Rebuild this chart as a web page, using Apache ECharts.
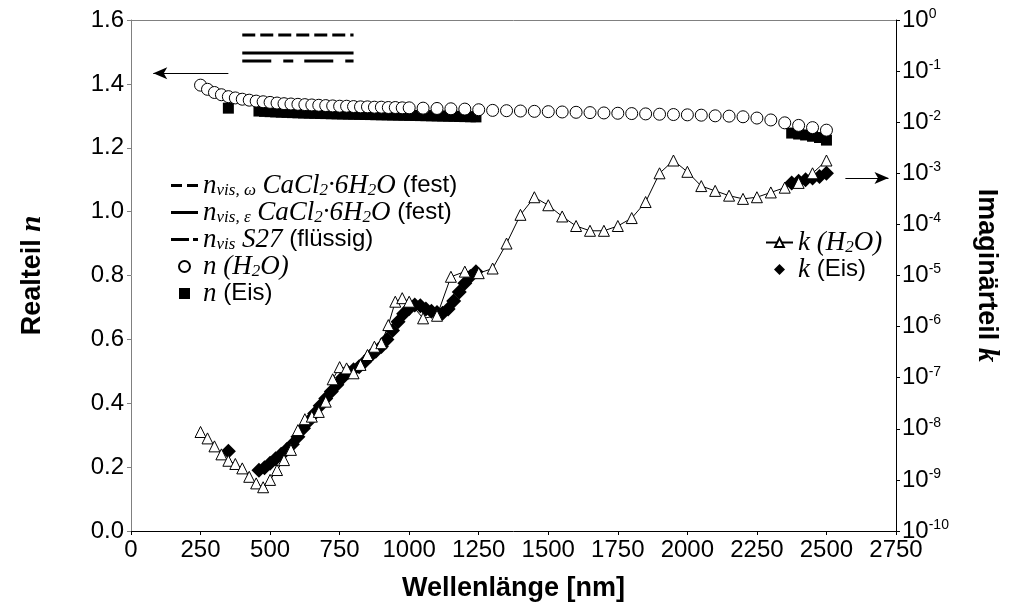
<!DOCTYPE html>
<html>
<head>
<meta charset="utf-8">
<title>Realteil / Imaginärteil</title>
<script src="https://cdn.jsdelivr.net/npm/echarts@6/dist/echarts.min.js"></script>
<style>
    html, body { margin: 0; padding: 0; background: #fff; }
    #main { width: 1018px; height: 609px; }
</style>
</head>
<body>
<div id="main"></div>
<script>
// Wasser: Wellenlänge (nm), Realteil n, Imaginärteil k
var wlWater = [250, 275, 300, 325, 350, 375, 400, 425, 450, 475, 500, 525, 550, 575, 600, 625, 650, 675, 700, 725,
    750, 775, 800, 825, 850, 875, 900, 925, 950, 975, 1000, 1050, 1100, 1150, 1200, 1250, 1300, 1350, 1400, 1450,
    1500, 1550, 1600, 1650, 1700, 1750, 1800, 1850, 1900, 1950, 2000, 2050, 2100, 2150, 2200, 2250, 2300, 2350,
    2400, 2450, 2500];
var nWater = [1.396, 1.383, 1.373, 1.366, 1.360, 1.356, 1.352, 1.349, 1.346, 1.344, 1.342, 1.340, 1.338, 1.337,
    1.336, 1.335, 1.334, 1.333, 1.332, 1.331, 1.330, 1.330, 1.329, 1.328, 1.328, 1.327, 1.327, 1.326, 1.326, 1.325,
    1.325, 1.324, 1.323, 1.322, 1.321, 1.319, 1.317, 1.316, 1.315, 1.314, 1.313, 1.312, 1.311, 1.310, 1.309, 1.308,
    1.307, 1.306, 1.305, 1.304, 1.303, 1.302, 1.300, 1.299, 1.297, 1.293, 1.287, 1.278, 1.270, 1.263, 1.255];
var kWater = [8.66e-9, 6.49e-9, 4.53e-9, 3.16e-9, 2.37e-9, 2.05e-9, 1.68e-9, 1.15e-9, 8.54e-10, 7.18e-10,
    1.0e-9, 1.56e-9, 2.44e-9, 3.87e-9, 9.44e-9, 1.54e-8, 1.73e-8, 2.14e-8, 3.40e-8, 9.3e-8,
    1.61e-7, 1.52e-7, 1.22e-7, 1.78e-7, 2.78e-7, 4.04e-7, 4.73e-7, 1.07e-6, 3.07e-6, 3.60e-6,
    3.07e-6, 1.45e-6, 1.63e-6, 9.44e-6, 1.19e-5, 1.11e-5, 1.37e-5, 4.22e-5, 1.54e-4, 3.40e-4,
    2.37e-4, 1.43e-4, 9.3e-5, 7.5e-5, 7.5e-5, 9.3e-5, 1.33e-4, 2.74e-4, 1.0e-3, 1.78e-3,
    1.07e-3, 5.62e-4, 4.53e-4, 3.65e-4, 3.16e-4, 3.40e-4, 4.22e-4, 5.23e-4, 6.49e-4, 1.0e-3, 1.78e-3];

// Eis
var wlIce = [350, 460, 480, 500, 520, 540, 560, 580, 600, 620, 640, 660, 680, 700, 720, 740, 760, 780, 800, 820,
    840, 860, 880, 900, 920, 940, 960, 980, 1000, 1020, 1040, 1060, 1080, 1100, 1120, 1140, 1160, 1180, 1200, 1220,
    1240, 2375, 2400, 2425, 2450, 2475, 2500];
var nIce = [1.324, 1.3150, 1.3140, 1.3130, 1.3122, 1.3114, 1.3107, 1.3100, 1.3094, 1.3088, 1.3083, 1.3078, 1.3073,
    1.3069, 1.3065, 1.3061, 1.3057, 1.3053, 1.3049, 1.3046, 1.3042, 1.3039, 1.3035, 1.3032, 1.3029, 1.3025, 1.3022,
    1.3018, 1.3015, 1.3011, 1.3007, 1.3004, 1.3000, 1.2996, 1.2992, 1.2988, 1.2984, 1.2980, 1.2975, 1.2971, 1.2966,
    1.246, 1.243, 1.240, 1.236, 1.232, 1.224];
var kIce = [3.65e-9, 1.54e-9, 1.73e-9, 2.11e-9, 2.59e-9, 3.16e-9, 3.92e-9, 5.01e-9, 6.98e-9, 1.03e-8, 1.43e-8,
    2.0e-8, 2.82e-8, 3.92e-8, 5.38e-8, 7.29e-8, 1.0e-7, 1.28e-7, 1.43e-7, 1.63e-7, 2.05e-7, 2.66e-7, 3.30e-7,
    4.10e-7, 5.62e-7, 8.41e-7, 1.24e-6, 1.78e-6, 2.27e-6, 2.66e-6, 2.55e-6, 2.21e-6, 2.0e-6, 1.88e-6, 1.83e-6,
    2.21e-6, 3.16e-6, 4.73e-6, 7.08e-6, 9.58e-6, 1.19e-5,
    6.49e-4, 6.98e-4, 7.5e-4, 8.06e-4, 8.66e-4, 1.0e-3];

// n_vis Linien (sichtbarer Bereich)
var wlVis = [400, 800];
var nVisOmega = [1.553, 1.553];
var nVisEps = [1.497, 1.497];
var nVisS27 = [1.472, 1.472];

// Pfeile (links -> Realteil, rechts -> Imaginärteil)
var arrowLeft = [[350, 1.433], [80, 1.433]];
var arrowRight = [[2568, 1.105], [2723, 1.105]];

function pairs(x, y) {
    return x.map(function (v, i) { return [v, y[i]]; });
}

var serif = 'Liberation Serif';
var sans = 'Liberation Sans';
var legendRich = {
    a: { fontFamily: sans, fontSize: 24, color: '#000', lineHeight: 27 },
    i: { fontFamily: serif, fontStyle: 'italic', fontSize: 27, color: '#000', lineHeight: 27 },
    s: { fontFamily: serif, fontStyle: 'italic', fontSize: 17, color: '#000', lineHeight: 17, verticalAlign: 'bottom' }
};
var legendText = {
    nvw: '{i|n}{s|vis, ω}{a| }{i|CaCl}{s|2}{i|·6H}{s|2}{i|O}{a| (fest)}',
    nve: '{i|n}{s|vis, ε}{a| }{i|CaCl}{s|2}{i|·6H}{s|2}{i|O}{a| (fest)}',
    nvs: '{i|n}{s|vis}{a| }{i|S27}{a| (flüssig)}',
    nw: '{i|n}{a| }{i|(H}{s|2}{i|O)}',
    ni: '{i|n}{a| (Eis)}',
    kw: '{i|k}{a| }{i|(H}{s|2}{i|O)}',
    ki: '{i|k}{a| (Eis)}'
};

var myChart = echarts.init(document.getElementById('main'), null, { renderer: 'canvas' });

var option = {
    animation: false,
    backgroundColor: '#fff',
    textStyle: { fontFamily: sans, color: '#000' },
    grid: { left: 131, right: 122, top: 20, bottom: 78 },
    legend: [
        {
            orient: 'vertical', left: 166, top: 167,
            itemWidth: 27, itemHeight: 11, itemGap: 0,
            selectedMode: false, symbolKeepAspect: true,
            data: [
                { name: 'nvw', icon: 'path://M0,0h11v3h-11zM16,0h11v3h-11z' },
                { name: 'nve', icon: 'path://M0,0h27v3h-27z' },
                { name: 'nvs', icon: 'path://M0,0h18v3h-18zM22,0h5v3h-5z' },
                { name: 'nw', icon: 'circle' },
                { name: 'ni', icon: 'path://M0,0h10v10h-10z' }
            ],
            formatter: function (name) { return legendText[name]; },
            textStyle: { rich: legendRich }
        },
        {
            orient: 'vertical', left: 760, top: 224,
            itemWidth: 27, itemHeight: 11, itemGap: 0,
            selectedMode: false, symbolKeepAspect: true,
            data: [
                { name: 'kw' },
                { name: 'ki', icon: 'path://M6,0L12,6L6,12L0,6z' }
            ],
            formatter: function (name) { return legendText[name]; },
            textStyle: { rich: legendRich }
        }
    ],
    xAxis: [
        {
            type: 'value', min: 0, max: 2750, interval: 250,
            name: 'Wellenlänge [nm]', nameLocation: 'middle', nameGap: 44,
            nameTextStyle: { fontFamily: sans, fontWeight: 'bold', fontSize: 27, color: '#000' },
            axisLine: { show: true, onZero: false, lineStyle: { color: '#000', width: 1 } },
            axisTick: { show: true, inside: false, length: 4, lineStyle: { color: '#000' } },
            axisLabel: { fontSize: 24, color: '#000', margin: 7, formatter: function (v) { return String(v); } },
            splitLine: { show: false }
        },
        {
            type: 'value', min: 0, max: 2750, position: 'top',
            axisLine: { show: true, onZero: false, lineStyle: { color: '#808080', width: 1 } },
            axisTick: { show: false }, axisLabel: { show: false }, splitLine: { show: false }
        }
    ],
    yAxis: [
        {
            type: 'value', min: 0, max: 1.6, interval: 0.2, position: 'left',
            name: 'Realteil {it|n}', nameLocation: 'middle', nameRotate: 90, nameGap: 84,
            nameTextStyle: {
                fontFamily: sans, fontWeight: 'bold', fontSize: 27, color: '#000',
                rich: { it: { fontFamily: serif, fontStyle: 'italic', fontWeight: 'bold', fontSize: 29, color: '#000' } }
            },
            axisLine: { show: true, onZero: false, lineStyle: { color: '#808080', width: 1 } },
            axisTick: { show: true, inside: false, length: 4, lineStyle: { color: '#808080' } },
            axisLabel: { fontSize: 24, color: '#000', margin: 7, formatter: function (v) { return v.toFixed(1); } },
            splitLine: { show: false }
        },
        {
            type: 'log', logBase: 10, min: 1e-10, max: 1, interval: 1, position: 'right',
            name: 'Imaginärteil {it|k}', nameLocation: 'middle', nameRotate: -90, nameGap: 76,
            nameTextStyle: {
                fontFamily: sans, fontWeight: 'bold', fontSize: 27, color: '#000',
                rich: { it: { fontFamily: serif, fontStyle: 'italic', fontWeight: 'bold', fontSize: 29, color: '#000' } }
            },
            axisLine: { show: true, onZero: false, lineStyle: { color: '#000', width: 1 } },
            axisTick: { show: true, inside: false, length: 4, lineStyle: { color: '#000' } },
            axisLabel: {
                color: '#000', margin: 6,
                formatter: function (v) {
                    var e = Math.round(Math.log(v) / Math.LN10);
                    return '{b|10}{p|' + e + '}';
                },
                rich: {
                    b: { fontFamily: sans, fontSize: 24, color: '#000', lineHeight: 26 },
                    p: { fontFamily: sans, fontSize: 14, color: '#000', lineHeight: 14, verticalAlign: 'top' }
                }
            },
            minorTick: { show: false },
            splitLine: { show: false }
        }
    ],
    series: [
        {
            name: 'nvw', type: 'line', data: pairs(wlVis, nVisOmega), showSymbol: false, symbol: 'none',
            lineStyle: { color: '#000', width: 3, type: [13, 5] }, itemStyle: { color: '#000' }
        },
        {
            name: 'nve', type: 'line', data: pairs(wlVis, nVisEps), showSymbol: false, symbol: 'none',
            lineStyle: { color: '#000', width: 3, type: 'solid' }, itemStyle: { color: '#000' }
        },
        {
            name: 'nvs', type: 'line', data: pairs(wlVis, nVisS27), showSymbol: false, symbol: 'none',
            lineStyle: { color: '#000', width: 3, type: [29, 12, 10, 11] }, itemStyle: { color: '#000' }
        },
        {
            name: 'ni', type: 'scatter', data: pairs(wlIce, nIce), symbol: 'rect', symbolSize: 11, z: 2,
            itemStyle: { color: '#000', opacity: 1 }
        },
        {
            name: 'nw', type: 'scatter', data: pairs(wlWater, nWater), symbol: 'circle', symbolSize: 12, z: 3,
            itemStyle: { color: '#fff', borderColor: '#000', borderWidth: 1, opacity: 1 },
            markLine: {
                silent: true, symbol: ['none', 'arrow'], symbolSize: [9, 14],
                label: { show: false },
                lineStyle: { color: '#000', width: 1, type: 'solid', opacity: 1 },
                data: [
                    [{ coord: arrowLeft[0] }, { coord: arrowLeft[1] }],
                    [{ coord: arrowRight[0] }, { coord: arrowRight[1] }]
                ]
            }
        },
        {
            name: 'ki', type: 'scatter', yAxisIndex: 1, data: pairs(wlIce, kIce), symbol: 'diamond', symbolSize: 15, z: 2,
            itemStyle: { color: '#000', opacity: 1 }
        },
        {
            name: 'kw', type: 'line', yAxisIndex: 1, data: pairs(wlWater, kWater), symbol: 'triangle', symbolSize: 11,
            showAllSymbol: true, z: 3,
            lineStyle: { color: '#000', width: 1 },
            itemStyle: { color: '#fff', borderColor: '#000', borderWidth: 1 }
        }
    ]
};
myChart.setOption(option);
</script>
</body>
</html>
